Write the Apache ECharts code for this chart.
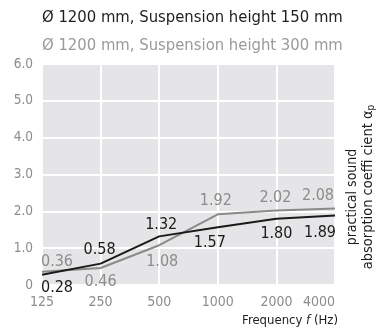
<!DOCTYPE html>
<html>
<head>
<meta charset="utf-8">
<script src="https://cdn.jsdelivr.net/npm/echarts@6/dist/echarts.min.js"></script>
<style>
  html, body { margin: 0; padding: 0; background: #fff; }
  #chart { width: 382px; height: 333px; }
</style>
</head>
<body>
<div id="chart"></div>
<script>
const FONT = "'DejaVu Sans Condensed', 'Liberation Sans Narrow', sans-serif";

// frequencies (Hz)
const freqs = ["125", "250", "500", "1000", "2000", "4000"];
// suspension height 150 mm (black)
const h150 = [0.28, 0.58, 1.32, 1.57, 1.80, 1.89];
// suspension height 300 mm (grey)
const h300 = [0.36, 0.46, 1.08, 1.92, 2.02, 2.08];
const yTicks = [0, 1, 2, 3, 4, 5, 6];

// label placement per point (style only)
const pos150 = [["bottom", [15, 0]], ["top", [-1, -1]], ["top", [2, 1]], ["bottom", [-8, 3]], ["bottom", [0, 2]], ["bottom", [-15, 4]]];
const pos300 = [["top", [15, 3]], ["bottom", [0, 1]], ["bottom", [3, 4]], ["top", [-2, 0]], ["top", [-1, 0]], ["top", [-17, 0]]];

function withLabels(values, pos) {
  return values.map((v, i) => ({
    value: v,
    label: { position: pos[i][0], offset: pos[i][1] },
  }));
}

const chart = echarts.init(document.getElementById("chart"));
const option = {
  animation: false,
  textStyle: { fontFamily: FONT },
  title: [
    {
      text: "Ø 1200 mm, Suspension height 150 mm",
      left: 42, top: 9, padding: 0,
      textStyle: { fontFamily: FONT, fontSize: 16.5, fontWeight: "normal", color: "#1e1e1e" },
    },
    {
      text: "Ø 1200 mm, Suspension height 300 mm",
      left: 42, top: 37, padding: 0,
      textStyle: { fontFamily: FONT, fontSize: 16.5, fontWeight: "normal", color: "#9a9a9a" },
    },
  ],
  grid: {
    left: 42, right: 47, top: 64, bottom: 48,
    show: true, backgroundColor: "#e5e5e7", borderWidth: 0,
  },
  xAxis: {
    type: "category",
    data: freqs,
    boundaryGap: false,
    axisLine: { show: false },
    axisTick: { show: false },
    axisLabel: { color: "#8c8c8c", fontSize: 14, fontFamily: FONT, margin: 10, alignMaxLabel: "right" },
    splitLine: { show: true, lineStyle: { color: "#fff", width: 2 } },
  },
  yAxis: {
    type: "value",
    min: yTicks[0],
    max: yTicks[yTicks.length - 1],
    interval: 1,
    axisLine: { show: false },
    axisTick: { show: false },
    axisLabel: {
      color: "#8c8c8c", fontSize: 13.5, fontFamily: FONT, margin: 9,
      padding: [7, 0, 0, 0],
      formatter: (v) => (v === 0 ? "0" : v.toFixed(1)),
    },
    splitLine: { show: true, lineStyle: { color: "#fff", width: 2 } },
  },
  graphic: [
    {
      type: "text", right: 44, top: 314,
      style: {
        text: "Frequency {i|f} (Hz)",
        fontFamily: FONT, fontSize: 13, fill: "#1e1e1e",
        rich: { i: { fontStyle: "italic", fontFamily: FONT, fontSize: 13, fill: "#1e1e1e" } },
      },
    },
    {
      type: "text", x: 352, y: 197, rotation: Math.PI / 2,
      style: { text: "practical sound", fontFamily: FONT, fontSize: 14, fill: "#1e1e1e", align: "center", verticalAlign: "middle" },
    },
    {
      type: "text", x: 368, y: 187, rotation: Math.PI / 2,
      style: {
        text: "absorption coeffi cient α{s|p}",
        fontFamily: FONT, fontSize: 14.5, fill: "#1e1e1e", align: "center", verticalAlign: "middle",
        rich: { s: { fontSize: 10, fontFamily: FONT, fill: "#1e1e1e", verticalAlign: "bottom", padding: [6, 0, 0, 0] } },
      },
    },
  ],
  series: [
    {
      name: "300",
      type: "line",
      data: withLabels(h300, pos300),
      symbol: "circle",
      symbolSize: 0,
      showSymbol: true,
      lineStyle: { color: "#8a8a8a", width: 2 },
      label: {
        show: true, color: "#8c8c8c", fontSize: 16, fontFamily: FONT, distance: 5,
        formatter: (p) => p.value.toFixed(2),
      },
      z: 2,
    },
    {
      name: "150",
      type: "line",
      data: withLabels(h150, pos150),
      symbol: "circle",
      symbolSize: 0,
      showSymbol: true,
      lineStyle: { color: "#1a1a1a", width: 2 },
      label: {
        show: true, color: "#1a1a1a", fontSize: 16, fontFamily: FONT, distance: 5,
        formatter: (p) => p.value.toFixed(2),
      },
      z: 3,
    },
  ],
};
chart.setOption(option);
</script>
</body>
</html>
